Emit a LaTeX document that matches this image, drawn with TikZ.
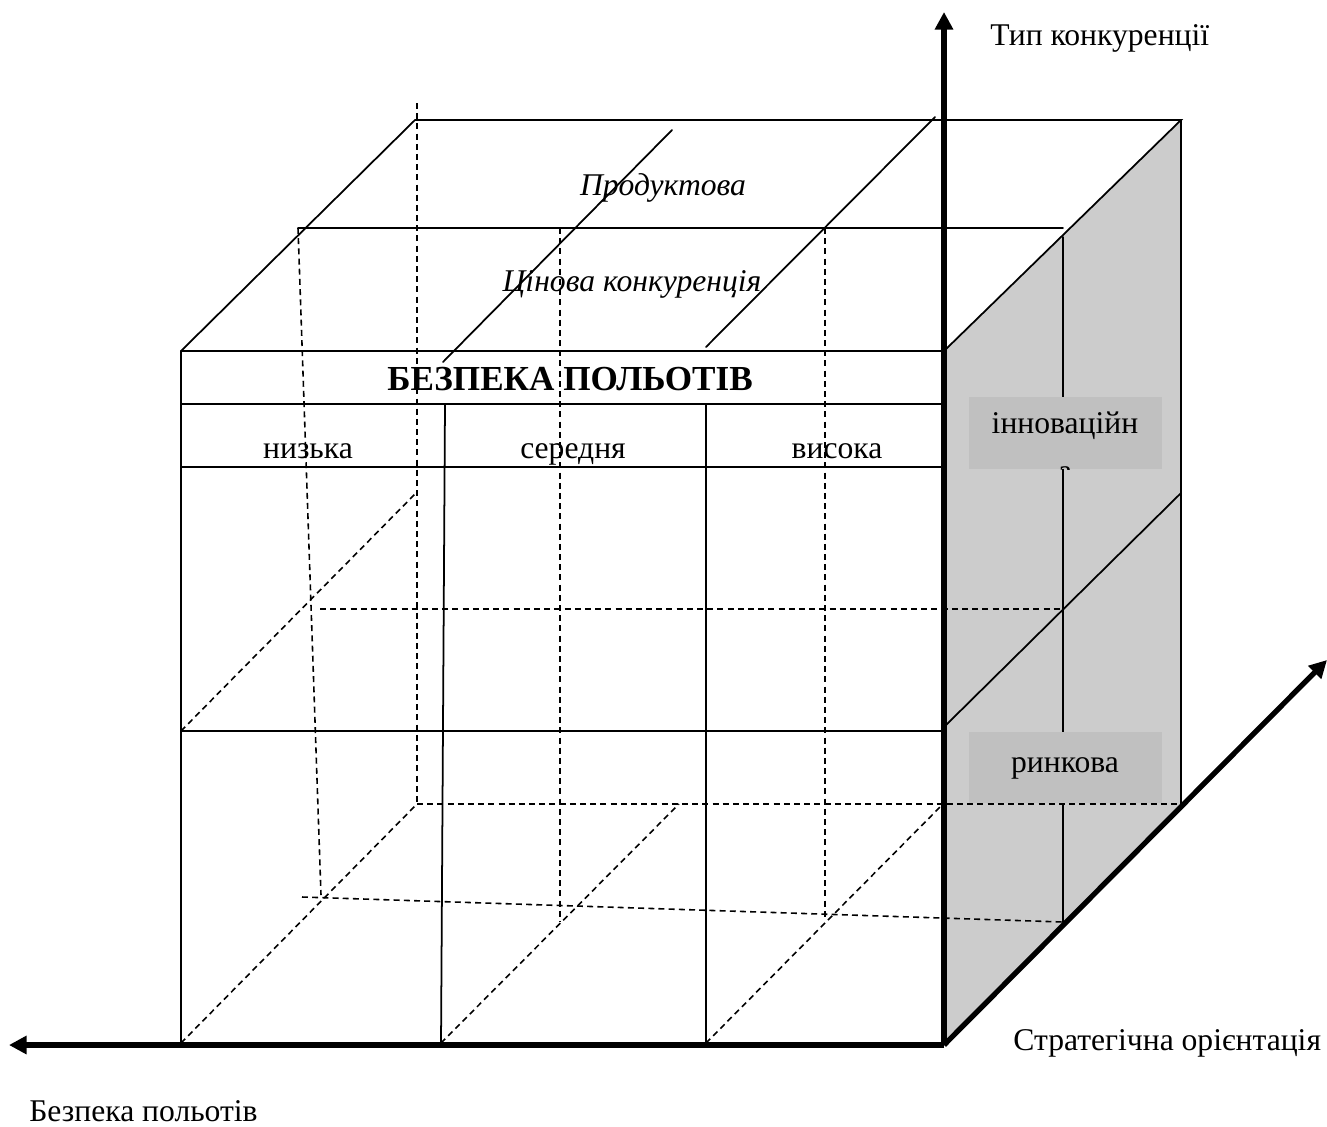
\documentclass[tikz,border=0pt]{standalone}
\usepackage{fontspec}
\setmainfont{Liberation Serif}
\newfontfamily\tnr{Liberation Serif}
\usetikzlibrary{arrows.meta}
\definecolor{sideface}{HTML}{CCCCCC}
\definecolor{tagfill}{HTML}{C0C0C0}
\begin{document}
\begin{tikzpicture}[x=0.02cm,y=-0.02cm,
  edge/.style={line width=1pt,line cap=round},
  hidden/.style={line width=0.9pt,dash pattern=on 3.4pt off 2.4pt},
  axis/.style={line width=3pt,-{Triangle[length=10pt,width=10pt]}},
  lbl/.style={font=\tnr\fontsize{18}{22}\selectfont,inner sep=0pt},
  ilbl/.style={font=\tnr\itshape\fontsize{18}{22}\selectfont,inner sep=0pt},
  title/.style={font=\tnr\bfseries\fontsize{20}{24}\selectfont,inner sep=0pt},
  tagbox/.style={fill=tagfill,minimum width=193*0.02cm,minimum height=72*0.02cm,inner sep=0pt}]
\useasboundingbox (0,0) rectangle (1327,1126);

% cube corners and axis ends
\coordinate (O) at (944,1045);
\coordinate (FTL) at (181,351);
\coordinate (FTR) at (944,351);
\coordinate (FBL) at (181,1045);
\coordinate (BTL) at (415,120);
\coordinate (BTR) at (1181,120);
\coordinate (BBR) at (1181,805);
\coordinate (TipZ) at (944,12);
\coordinate (TipX) at (9,1045);
\coordinate (TipY) at (1327,660);

% shaded right face
\fill[sideface] (FTR) -- (BTR) -- (BBR) -- (O) -- cycle;

% hidden edges and mid-depth grid
\draw[hidden] (417,103) -- (417,804);
\draw[hidden] (417,804) -- (1181,804);
\draw[hidden] (181,731) -- (417,492);
\draw[hidden] (320,609) -- (1063,609);
\draw[hidden] (298,228) -- (321,895);
\draw[hidden] (302,897) -- (1063,922);
\draw[hidden] (560,228) -- (560,922);
\draw[hidden] (825,228) -- (825,918);
\draw[hidden] (181,1043) -- (417,804);
\draw[hidden] (441,1043) -- (679,804);
\draw[hidden] (706,1043) -- (943,804);

% front face
\draw[edge] (FTL) -- (FTR);
\draw[edge] (181,404) -- (944,404);
\draw[edge] (181,467) -- (944,467);
\draw[edge] (181,731) -- (944,731);
\draw[edge] (FTL) -- (FBL);
\draw[edge] (445,404) -- (441,1045);
\draw[edge] (706,404) -- (706,1045);

% top face
\draw[edge] (FTL) -- (BTL) -- (BTR) -- (FTR);
\draw[edge] (298,228) -- (1063,228);
\draw[edge] (443,362) -- (672,130);
\draw[edge] (706,347) -- (935,117);

% right face
\draw[edge] (BTR) -- (BBR);
\draw[edge] (1063,237) -- (1063,922);
\draw[edge] (944,727) -- (1181,493);

% axes
\draw[axis] (O) -- (TipZ);
\draw[axis] (O) -- (TipX);
\draw[axis] (O) -- (TipY);

% labels on the right face
\node[tagbox] (innov) at (1065.5,432.5) {};
\begin{scope}
  \clip (969,396) rectangle (1162,469);
  \node[lbl,anchor=base] (innovA) at (1065,433) {інноваційн};
  \node[lbl,anchor=base] (innovB) at (1065,481) {а};
\end{scope}
\node[tagbox,minimum height=71*0.02cm] (market) at (1065.5,767.5) {};
\node[lbl,anchor=base] (marketT) at (1065,772) {ринкова};

% front face labels
\node[title,anchor=base] (safety) at (570,390) {БЕЗПЕКА ПОЛЬОТІВ};
\node[lbl,anchor=base] (low) at (308,458) {низька};
\node[lbl,anchor=base] (mid) at (573,458) {середня};
\node[lbl,anchor=base] (high) at (837,458) {висока};

% top face labels
\node[ilbl,anchor=base] (product) at (663,195) {Продуктова};
\node[ilbl,anchor=base] (price) at (632,291) {Цінова конкуренція};

% axis labels
\node[lbl,anchor=base west] (zlabel) at (990,45) {Тип конкуренції};
\node[lbl,anchor=base west] (ylabel) at (1013,1050) {Стратегічна орієнтація};
\node[lbl,anchor=base east] (xlabel) at (258,1121) {Безпека польотів};
\end{tikzpicture}
\end{document}
